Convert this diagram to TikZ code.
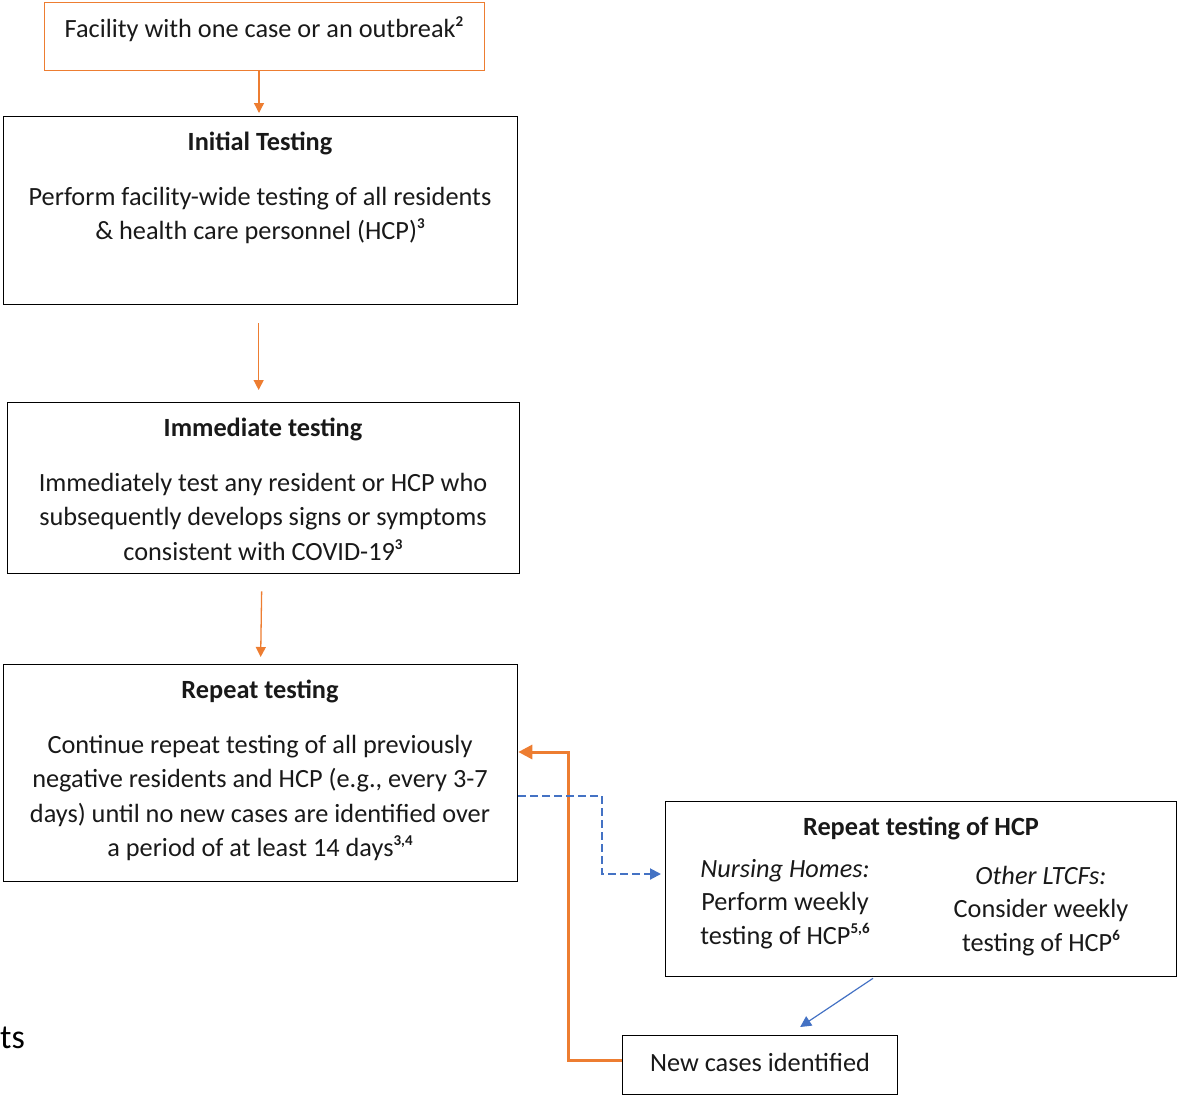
\documentclass[tikz,border=0pt]{standalone}
\usepackage{fontspec}
\setmainfont{Carlito}
\usetikzlibrary{arrows.meta,calc}
\definecolor{orng}{RGB}{237,125,49}
\definecolor{blu}{RGB}{68,114,196}
\newcommand{\sps}[1]{\raisebox{0.42em}{\fontsize{15}{15}\selectfont\bfseries #1}}
\begin{document}
\begin{tikzpicture}[x=1pt,y=-1pt,
  box/.style={draw=black,line width=1.3pt,rectangle,anchor=north west,inner sep=0pt},
  obox/.style={draw=orng,line width=1.3pt,rectangle,anchor=north west,inner sep=0pt},
  txt/.style={inner sep=0pt,align=center,font=\fontsize{26.3}{34.5}\selectfont,text=black!90},
  ttl/.style={txt,font=\fontsize{26.3}{34.5}\selectfont\bfseries},
  oarr/.style={draw=orng,line width=1.3pt,-{Triangle[length=10pt,width=10pt]}},
  barr/.style={draw=blu,line width=1pt,-{Triangle[length=11pt,width=11pt]}}
]
\useasboundingbox (0,0) rectangle (1178,1096);
% boxes
\node[obox,minimum width=440pt,minimum height=68pt] (top) at (44,2) {};
\node[box,minimum width=514pt,minimum height=188pt] (init) at (3,116) {};
\node[box,minimum width=512pt,minimum height=171pt] (imm) at (7,402) {};
\node[box,minimum width=514pt,minimum height=217pt] (rep) at (3,664) {};
\node[box,minimum width=511pt,minimum height=175pt] (hcp) at (665,801) {};
\node[box,minimum width=275pt,minimum height=59pt] (new) at (622,1035) {};
% texts
\node[txt] (t0) at (264,29) {Facility with one case or an outbreak\sps{2}};
\node[ttl] (t1) at (260,143) {Initial Testing};
\node[txt,anchor=north] (t1b) at (260,187) {Perform facility-wide testing of all residents\\ \& health care personnel (HCP)\sps{3}};
\node[ttl] (t2) at (263,429) {Immediate testing};
\node[txt,anchor=north] (t2b) at (263,473) {Immediately test any resident or HCP who\\ subsequently develops signs or symptoms\\ consistent with COVID-19\sps{3}};
\node[ttl] (t3) at (260,691) {Repeat testing};
\node[txt,anchor=north] (t3b) at (260,735) {Continue repeat testing of all previously\\ negative residents and HCP (e.g., every 3-7\\ days) until no new cases are identified over\\ a period of at least 14 days\sps{3,4}};
\node[ttl] (t4) at (921,828) {Repeat testing of HCP};
\node[txt,anchor=north,font=\fontsize{26.3}{33.5}\selectfont] (t4a) at (785,859) {\textit{Nursing Homes:}\\ Perform weekly\\ testing of HCP\sps{5,6}};
\node[txt,anchor=north,font=\fontsize{26.3}{33.5}\selectfont] (t4b) at (1041,866) {\textit{Other LTCFs:}\\ Consider weekly\\ testing of HCP\sps{6}};
\node[txt] (t5) at (760,1062) {New cases identified};
\node[inner sep=0pt,anchor=west,font=\fontsize{34}{36}\selectfont,text=black] (ts) at (0,1038) {ts};
% connectors
\draw[oarr] (top.south -| 259,0) -- (259,113);
\draw[oarr] ($(init.south)+(-2,18)$) -- ($(imm.north)+(-5,-12)$);
\draw[oarr] ($(imm.south)+(-2,17)$) -- ($(rep.north)+(0,-7)$);
\coordinate (o1) at (568,1060);
\coordinate (o2) at (568,752);
\draw[oarr,line width=3pt,-{Triangle[length=14pt,width=14pt]}] (new.west |- o1) -- (o1) -- (o2) -- (rep.east |- o2);
\coordinate (b1) at (602,796);
\coordinate (b2) at (602,874);
\draw[barr,dash pattern=on 8pt off 4pt,line width=2pt] (rep.east |- b1) -- (b1) -- (b2) -- ($(hcp.west |- b2)+(-4,0)$);
\draw[barr,line width=1.2pt] ($(hcp.south west)+(208,1)$) -- ($(new.north)+(40,-8)$);
\end{tikzpicture}
\end{document}
